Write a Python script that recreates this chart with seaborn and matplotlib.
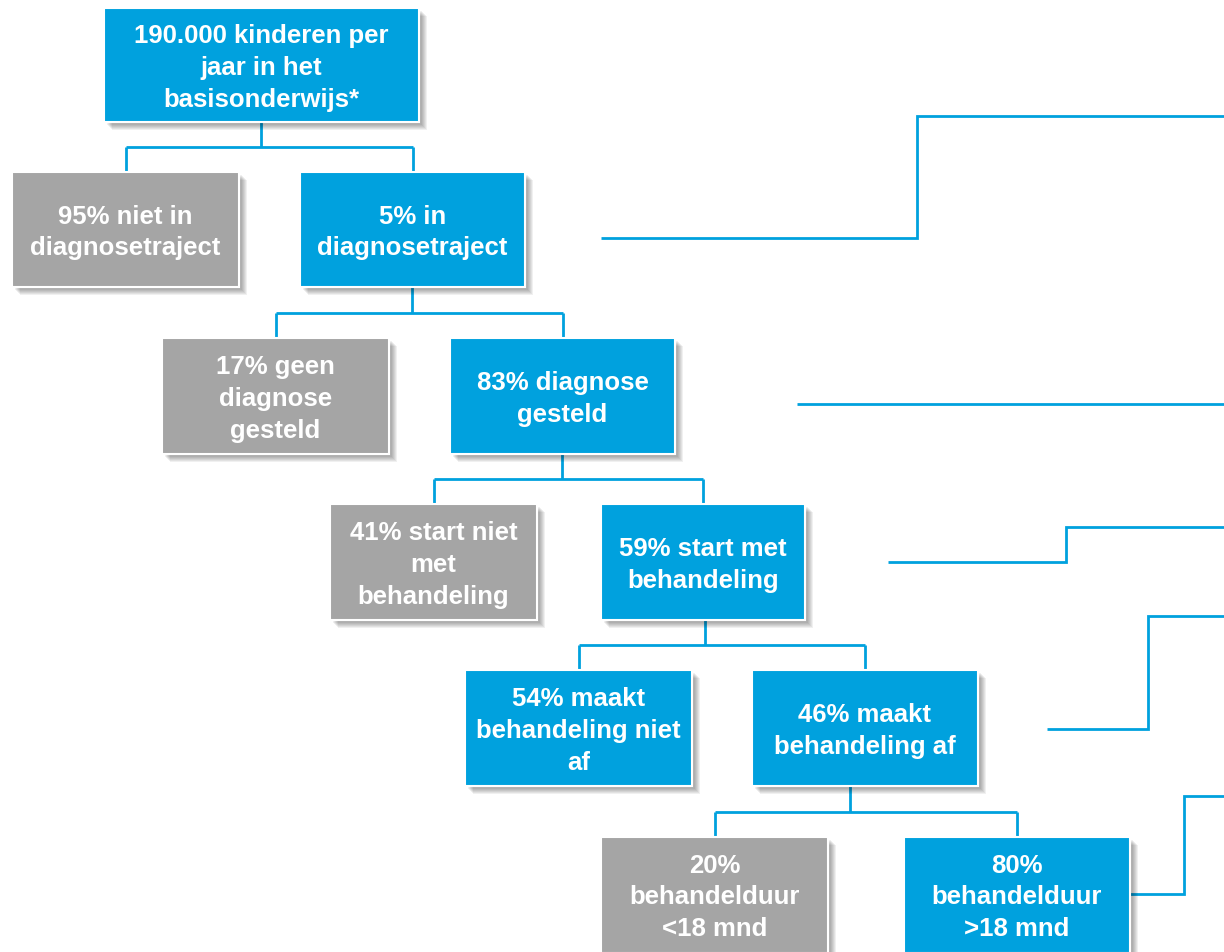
import matplotlib
matplotlib.use("Agg")
import matplotlib.pyplot as plt
from matplotlib.patches import Rectangle
import seaborn as sns
import pandas as pd

# ---- data ----
node_ids = ["root", "n95", "n5", "n17", "n83", "n41", "n59", "n54", "n46", "n20", "n80"]
labels = [
    "190.000 kinderen per\njaar in het\nbasisonderwijs*",
    "95% niet in\ndiagnosetraject",
    "5% in\ndiagnosetraject",
    "17% geen\ndiagnose\ngesteld",
    "83% diagnose\ngesteld",
    "41% start niet\nmet\nbehandeling",
    "59% start met\nbehandeling",
    "54% maakt\nbehandeling niet\naf",
    "46% maakt\nbehandeling af",
    "20%\nbehandelduur\n<18 mnd",
    "80%\nbehandelduur\n>18 mnd",
]
kind = ["main", "rest", "main", "rest", "main", "rest", "main", "main", "main", "rest", "main"]
parents = [None, "root", "root", "n5", "n5", "n83", "n83", "n59", "n59", "n46", "n46"]

# ---- layout (pixel space) ----
boxes = {
    "root": (104, 9, 419, 123),
    "n95": (12, 173, 239, 288),
    "n5": (300, 173, 525, 288),
    "n17": (162, 339, 389, 455),
    "n83": (450, 339, 675, 455),
    "n41": (330, 505, 537, 621),
    "n59": (601, 505, 805, 621),
    "n54": (465, 671, 692, 787),
    "n46": (752, 671, 978, 787),
    "n20": (601, 838, 828, 954),
    "n80": (904, 838, 1130, 954),
}
stem_x = {"root": 261, "n5": 412, "n83": 562, "n59": 705, "n46": 850}
side_paths = [
    [(601, 239), (917, 239), (917, 117), (1226, 117)],
    [(797, 405), (1226, 405)],
    [(888, 563), (1066, 563), (1066, 528), (1226, 528)],
    [(1047, 730), (1148, 730), (1148, 617), (1226, 617)],
    [(1130, 895), (1184, 895), (1184, 797), (1226, 797)],
]

BLUE = "#00A1DE"
GRAY = "#A5A5A5"
colors = {"main": BLUE, "rest": GRAY}

sns.set_theme(style="white")
plt.rcParams["font.family"] = ["Liberation Sans", "DejaVu Sans"]

W, H = 1224, 953
fig = plt.figure(figsize=(W / 100, H / 100), dpi=100)
ax = fig.add_axes([0, 0, 1, 1])
ax.set_xlim(0, W)
ax.set_ylim(H, 0)
ax.axis("off")

LW = 2.0

# connectors between parents and children
children = {}
for nid, p in zip(node_ids, parents):
    if p is not None:
        children.setdefault(p, []).append(nid)

seg_rows = []
seg_id = 0
for p, kids in children.items():
    px0, py0, px1, py1 = boxes[p]
    kid_tops = [boxes[k][1] for k in kids]
    bus_y = (py1 + min(kid_tops)) / 2
    sx = stem_x[p]
    seg_rows += [(seg_id, sx, py1), (seg_id, sx, bus_y)]
    seg_id += 1
    kx = [(boxes[k][0] + boxes[k][2]) / 2 for k in kids]
    seg_rows += [(seg_id, min(kx), bus_y), (seg_id, max(kx), bus_y)]
    seg_id += 1
    for k, x in zip(kids, kx):
        seg_rows += [(seg_id, x, bus_y), (seg_id, x, boxes[k][1])]
        seg_id += 1

for path in side_paths:
    for x, y in path:
        seg_rows.append((seg_id, x, y))
    seg_id += 1

seg_df = pd.DataFrame(seg_rows, columns=["seg", "x", "y"])
for sid, g in seg_df.groupby("seg"):
    ax.plot(g["x"], g["y"], color=BLUE, lw=LW, solid_capstyle="butt",
            solid_joinstyle="miter", zorder=1)

# boxes with soft shadow
for nid, lab, k in zip(node_ids, labels, kind):
    x0, y0, x1, y1 = boxes[nid]
    w, h = x1 - x0, y1 - y0
    for i, off in enumerate([8, 7, 6, 5, 4, 3]):
        ax.add_patch(Rectangle((x0 + off, y0 + off), w, h, facecolor="#000000",
                               alpha=0.06, edgecolor="none", zorder=2))
    ax.add_patch(Rectangle((x0, y0), w, h, facecolor=colors[k], edgecolor="white",
                           lw=1.5, zorder=3))
    ax.text((x0 + x1) / 2, (y0 + min(y1, 953)) / 2 + 2, lab, color="white",
            fontsize=18.5, fontweight="bold", ha="center", va="center",
            multialignment="center", linespacing=1.42, zorder=4)

fig.savefig("out.png", dpi=100, facecolor="white")
